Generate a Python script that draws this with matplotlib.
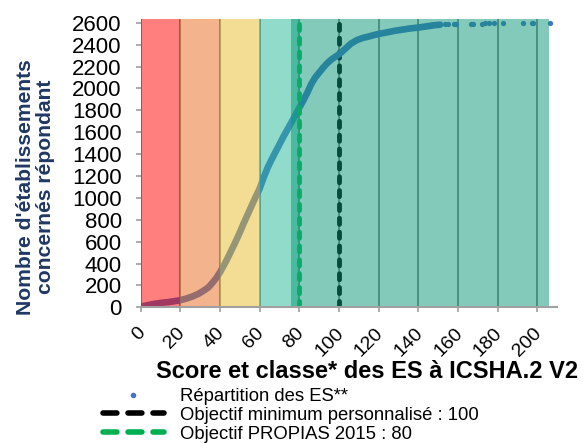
import matplotlib
matplotlib.use("Agg")
import matplotlib.pyplot as plt
import matplotlib.transforms as mtransforms
from matplotlib.lines import Line2D

plt.rcParams['font.family'] = ['Liberation Sans', 'DejaVu Sans']

# ---- data ----
curve_scores = [0, 1, 3, 5, 7, 10, 14, 17, 20, 23, 26, 29, 32, 34, 36, 38, 40, 42, 44, 46,
                48, 50, 52, 54, 56, 58, 60, 62, 64, 66, 68, 70, 72, 74, 76, 78, 80, 82, 84,
                86, 88, 90, 92, 94, 96, 98, 100, 103, 106, 109, 112, 115, 118, 121, 124,
                128, 132, 136, 140, 144, 148, 151]
curve_counts = [3, 10, 18, 25, 32, 40, 48, 56, 65, 80, 98, 122, 155, 180, 220, 265, 320, 385,
                455, 530, 605, 685, 770, 850, 930, 1010, 1085, 1185, 1275, 1350, 1420, 1490,
                1560, 1625, 1690, 1755, 1825, 1890, 1960, 2040, 2100, 2145, 2190, 2230, 2262,
                2288, 2312, 2360, 2410, 2442, 2462, 2475, 2490, 2502, 2512, 2527, 2538, 2549,
                2557, 2567, 2578, 2583]
tail_scores = [153.4, 155.0, 158.2, 158.8, 166.6, 167.4, 172.1, 173.8, 175.5, 178.3, 182.5,
               192.6, 197.3, 198.0, 206.4]
tail_counts = [2586, 2587, 2589, 2590, 2591, 2592, 2593, 2594, 2595, 2595, 2596, 2597, 2598,
               2599, 2600]

bands = [(0, 20, '#FF0000'), (20, 40, '#E9691B'), (40, 60, '#E9BB29'),
         (60, 80, '#25B997'), (76, 205.7, '#0B9777')]
objectif_min = 100
objectif_propias = 80
x_ticks = list(range(0, 201, 20))
y_ticks = list(range(0, 2601, 200))

label_series = "Répartition des ES**"
label_min = "Objectif minimum personnalisé : 100"
label_propias = "Objectif PROPIAS 2015 : 80"

# ---- figure ----
fig = plt.figure(figsize=(5.85, 4.43), dpi=100)
ax = fig.add_axes([0.2405, 0.3063, 0.9523 - 0.2405, 0.9571 - 0.3063])

blue = '#4472C4'
for xv in x_ticks:
    ax.axvline(xv, color='#808080', lw=1.3, zorder=1)

ax.axvline(objectif_min, color='black', lw=3.5, dashes=(1.25, 1.6),
           dash_capstyle='round', zorder=2)
ax.plot(curve_scores, curve_counts, color=blue, lw=4.8, solid_capstyle='round', zorder=2)
ax.plot(tail_scores, tail_counts, 'o', color=blue, ms=3.8, mew=0, zorder=2)

for x0, x1, c in bands:
    ax.axvspan(x0, x1, color=c, alpha=0.5, lw=0, zorder=3)

ax.axvline(objectif_propias, color='#0BAA68', lw=3.5, dashes=(1.25, 1.6),
           dash_capstyle='round', zorder=4)

ax.set_xlim(0, 210)
ax.set_ylim(0, 2635)
ax.set_xticks(x_ticks)
ax.set_yticks(y_ticks)
ax.set_xticklabels([str(v) for v in x_ticks], rotation=45, ha='right', va='top',
                   rotation_mode='anchor', fontsize=14)
ax.set_yticklabels([str(v) for v in y_ticks], fontsize=16)
ax.tick_params(axis='both', color='#A0A0A0', length=3.6, width=1.2, direction='out')
ax.tick_params(axis='y', pad=10)
ax.tick_params(axis='x', pad=2)
offset = mtransforms.ScaledTranslation(-4 / 100, -9.5 / 100, fig.dpi_scale_trans)
for lab in ax.get_xticklabels():
    lab.set_transform(lab.get_transform() + offset)
for s in ['top', 'right', 'left']:
    ax.spines[s].set_visible(False)
ax.spines['bottom'].set_color('#A0A0A0')
ax.spines['bottom'].set_linewidth(1.5)
ax.spines['bottom'].set_zorder(5)

fig.text(35.5 / 585, 1 - 187 / 443, "Nombre d'établissements\nconcernés répondant",
         rotation=90, ha='center', va='center', multialignment='center',
         fontsize=15.2, fontweight='bold', color='#1F3864', linespacing=1.12)
fig.text(367 / 585, 1 - 378 / 443, "Score et classe* des ES à ICSHA.2 V2",
         ha='center', va='baseline', fontsize=17, fontweight='bold', color='black')

handles = [
    Line2D([], [], marker='o', ls='none', color=blue, ms=4, mew=0),
    Line2D([], [], color='black', lw=4, dashes=(2.5, 2.0), dash_capstyle='round'),
    Line2D([], [], color='#00B050', lw=4, dashes=(2.5, 2.0), dash_capstyle='round'),
]
fig.legend(handles, [label_series, label_min, label_propias], loc='upper left',
           bbox_to_anchor=(103 / 585, 1 - 388 / 443), frameon=False, fontsize=13.3,
           handlelength=3.3, handletextpad=0.85, labelspacing=0.1, borderpad=0,
           borderaxespad=0)

fig.savefig('out.png', dpi=100)
